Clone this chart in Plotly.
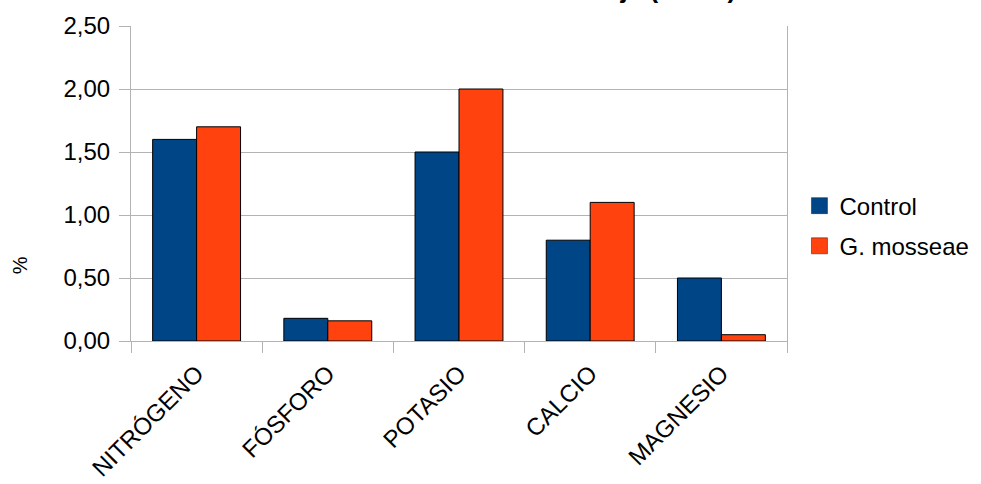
import plotly.graph_objects as go

# Nutrient content per element, two treatments
categories = ["NITRÓGENO", "FÓSFORO", "POTASIO", "CALCIO", "MAGNESIO"]
control = [1.60, 0.18, 1.50, 0.80, 0.50]
mosseae = [1.70, 0.16, 2.00, 1.10, 0.05]
series_names = ["Control", "G. mosseae"]
series_colors = ["#004586", "#ff420e"]
y_ticks = [0, 0.5, 1.0, 1.5, 2.0, 2.5]
title_text = "Contenido de nutrientes en hoja (% MS)"
y_label = "%"

FONT = "Liberation Sans, Arial, sans-serif"
GRID = "#b3b3b3"

fig = go.Figure()
for name, vals, col in zip(series_names, [control, mosseae], series_colors):
    fig.add_trace(go.Bar(x=categories, y=vals, name=name, showlegend=False,
                         marker=dict(color=col, line=dict(color="#000000", width=1))))

# Legend entries drawn as larger square swatches
for name, col in zip(series_names, series_colors):
    fig.add_trace(go.Scatter(x=[None], y=[None], mode="markers", name=name,
                             legendgroup=name,
                             marker=dict(symbol="square", size=16, color=col,
                                         line=dict(color="#1a1a1a", width=0.5))))

fig.update_layout(
    width=981, height=484,
    margin=dict(l=131, r=194, t=26, b=143, pad=0, autoexpand=False),
    paper_bgcolor="white", plot_bgcolor="white",
    font=dict(family=FONT, size=24, color="#000000"),
    separators=", ",
    barmode="group", bargap=0.33, bargroupgap=0,
    legend=dict(x=1.019, xanchor="left", y=0.365, yanchor="middle",
                font=dict(family=FONT, size=24), itemsizing="trace",
                tracegroupgap=6, bgcolor="rgba(0,0,0,0)"),
    showlegend=True,
)

# Chart heading sits above the top edge of the page
fig.add_annotation(text="<b>" + title_text + "</b>", xref="paper", yref="paper",
                   x=0.925, xanchor="right", y=1.0, yanchor="bottom", yshift=20,
                   showarrow=False, font=dict(family=FONT, size=26, color="#000000"))

# Vertical axis caption
fig.add_annotation(text=y_label, xref="paper", yref="paper",
                   x=-0.169, y=0.241, xanchor="center", yanchor="middle",
                   textangle=-90, showarrow=False,
                   font=dict(family=FONT, size=20, color="#000000"))

fig.update_xaxes(
    type="category", tickson="boundaries", ticks="outside", ticklen=11,
    tickcolor=GRID, showline=True, linecolor=GRID, linewidth=1,
    showgrid=False, tickangle=-45, ticklabelstandoff=8, automargin=False,
    tickfont=dict(size=24, family=FONT),
)
fig.update_yaxes(
    range=[0, 2.5], tickvals=y_ticks, tickformat=".2f", ticks="outside", ticklen=11,
    tickcolor=GRID, showline=True, linecolor=GRID, linewidth=1, mirror=True,
    showgrid=True, gridcolor=GRID, gridwidth=1, zeroline=False, automargin=False,
    ticklabelstandoff=4, tickfont=dict(size=24, family=FONT),
)

fig.write_html("out.html")
